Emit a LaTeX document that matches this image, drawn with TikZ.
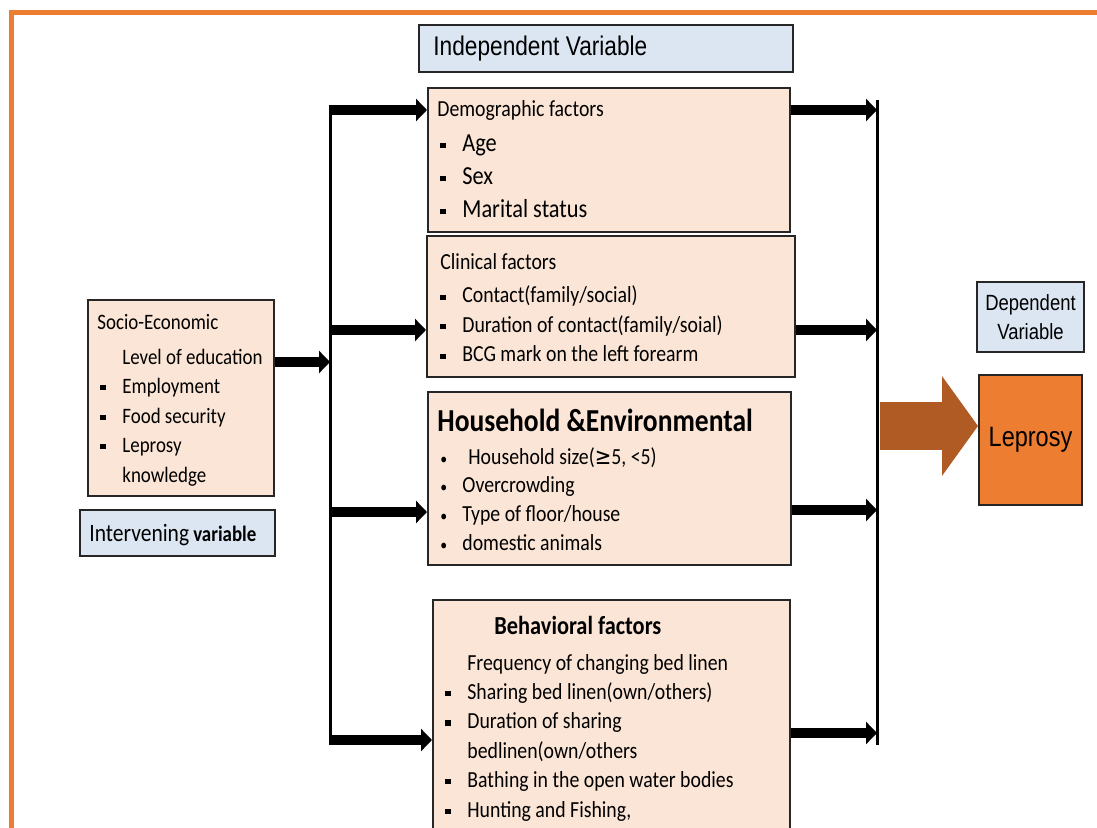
\documentclass[tikz,border=0pt]{standalone}
\usepackage{fontspec}
\setmainfont{Carlito}[FakeStretch=0.86]
\newfontfamily\arialfont{Liberation Sans}[FakeStretch=0.84]
\newfontfamily\symfont{DejaVu Sans}[FakeStretch=0.86]
\usetikzlibrary{arrows.meta,fit}

\definecolor{peach}{RGB}{251,229,214}
\definecolor{paleblue}{RGB}{220,230,242}
\definecolor{framecol}{RGB}{237,125,49}
\definecolor{lepcol}{RGB}{237,125,49}
\definecolor{arrowcol}{RGB}{176,90,36}

\newcommand{\sqb}{\makebox[11pt][l]{\rule[.3ex]{2.6pt}{2.6pt}}}
\newcommand{\rdb}{\makebox[11pt][l]{\footnotesize\textbullet}}
\newcommand{\nob}{\hspace*{11pt}}

\begin{document}
\begin{tikzpicture}[x=0.5pt, y=-0.5pt,
  factor/.style={draw=black!85, line width=1pt, fill=peach, inner sep=0pt},
  varbox/.style={draw=black!85, line width=1pt, fill=paleblue, inner sep=0pt},
  txt/.style={anchor=base west, inner sep=0pt, align=left},
  fat/.style={line width=5pt, -{Triangle[length=5.5pt,width=11pt]}},
  bus/.style={line width=1.5pt},
  bigarrow/.style={arrowcol, line width=24pt, -{Triangle[length=18pt,width=49pt]}}]

\path[use as bounding box, fill=white] (0,0) rectangle (1097,828);
\clip (0,0) rectangle (1097,828);

% frame
\draw[framecol, line width=2.5pt] (11,840) -- (11,12.5) -- (1110,12.5);

% boxes
\node[varbox, fit={(419,25) (793,72)}] (indep) {};
\node[factor, fit={(428,88) (790,232)}] (demo) {};
\node[factor, fit={(427,236) (795,377)}] (clin) {};
\node[factor, fit={(428,392) (791,565)}] (house) {};
\node[factor, fit={(433,600) (790,860)}] (behav) {};
\node[factor, fit={(88,300) (274,496)}] (socio) {};
\node[varbox, fit={(80,510) (275,556)}] (interv) {};
\node[varbox, fit={(977,282) (1084,352)}] (dep) {};
\node[draw=black!85, line width=1pt, fill=lepcol, inner sep=0pt, fit={(979,375) (1082,505)}] (lep) {};

% texts (multi-line nodes sit on their last baseline)
\node[txt, font=\arialfont\fontsize{13.5}{16}\selectfont] (indeptxt) at (433,56) {Independent Variable};
\node[align=center, font=\arialfont\fontsize{11}{14.5}\selectfont] (deptxt) at (dep.center) {Dependent\\Variable};
\node[font=\arialfont\fontsize{14}{16}\selectfont] (leptxt) at (lep.center) {Leprosy};
\node[txt, font=\fontsize{12.5}{15}\selectfont] (intervtxt) at (89,541)
  {Intervening\,{\bfseries\fontsize{11}{13}\selectfont variable}};

\node[txt, font=\fontsize{11.5}{14}\selectfont] (demotitle) at (437,117) {Demographic factors};
\node[txt, font=\fontsize{13}{16.5}\selectfont] (demoitems) at (440,218)
  {\sqb Age\\ \sqb Sex\\ \sqb Marital status};

\node[txt, font=\fontsize{11.5}{14}\selectfont] (clintitle) at (440,270) {Clinical factors};
\node[txt, font=\fontsize{11.5}{14.75}\selectfont] (clinitems) at (440,362)
  {\sqb Contact(family/social)\\ \sqb Duration of contact(family/soial)\\ \sqb BCG mark on the left forearm};

\node[txt, font=\bfseries\fontsize{16}{18}\selectfont] (housetitle) at (437,431) {Household \&Environmental};
\node[txt, font=\fontsize{11.5}{14.3}\selectfont] (houseitems) at (440,550)
  {\rdb\hspace{3pt}Household size({\symfont ≥}5, <5)\\ \rdb Overcrowding\\ \rdb Type of floor/house\\ \rdb domestic animals};

\node[txt, font=\bfseries\fontsize{13}{15}\selectfont] (behavtitle) at (494,634) {Behavioral factors};
\node[txt, font=\fontsize{11.5}{14.7}\selectfont] (behavitems) at (445,817)
  {\nob Frequency of changing bed linen\\ \sqb Sharing bed linen(own/others)\\ \sqb Duration of sharing\\
   \nob bedlinen(own/others\\ \sqb Bathing in the open water bodies\\ \sqb Hunting and Fishing,};

\node[txt, font=\fontsize{11}{14}\selectfont] (sociotitle) at (97,330) {Socio-Economic};
\node[txt, font=\fontsize{11}{14.75}\selectfont] (socioitems) at (100,482)
  {\nob Level of education\\ \sqb Employment\\ \sqb Food security\\ \sqb Leprosy\\ \nob knowledge};

% left bus
\coordinate (lbtop) at (330,105);
\coordinate (lbbot) at (330,745);
\coordinate (lb1) at (330,110);
\coordinate (lb2) at (330,330);
\coordinate (lb3) at (330,512);
\coordinate (lb4) at (330,740);
\coordinate (lbs) at (330,362);
\draw[bus] (lbtop) -- (lbbot);
\draw[fat] (lb1) -- (lb1 -| demo.west);
\draw[fat] (lb2) -- (lb2 -| clin.west);
\draw[fat] (lb3) -- (lb3 -| house.west);
\draw[fat] (lb4) -- (lb4 -| behav.west);
\draw[fat] (socio.east |- lbs) -- (lbs);

% right bus
\coordinate (rbtop) at (877,100);
\coordinate (rbbot) at (877,745);
\coordinate (rb1) at (877,110);
\coordinate (rb2) at (877,330);
\coordinate (rb3) at (877,510);
\coordinate (rb4) at (877,733);
\coordinate (rbl) at (880,426);
\draw[bus] (rbtop) -- (rbbot);
\draw[fat] (demo.east |- rb1) -- (rb1);
\draw[fat] (clin.east |- rb2) -- (rb2);
\draw[fat] (house.east |- rb3) -- (rb3);
\draw[fat] (behav.east |- rb4) -- (rb4);
\draw[bigarrow] (rbl) -- (rbl -| lep.west);

\end{tikzpicture}
\end{document}
